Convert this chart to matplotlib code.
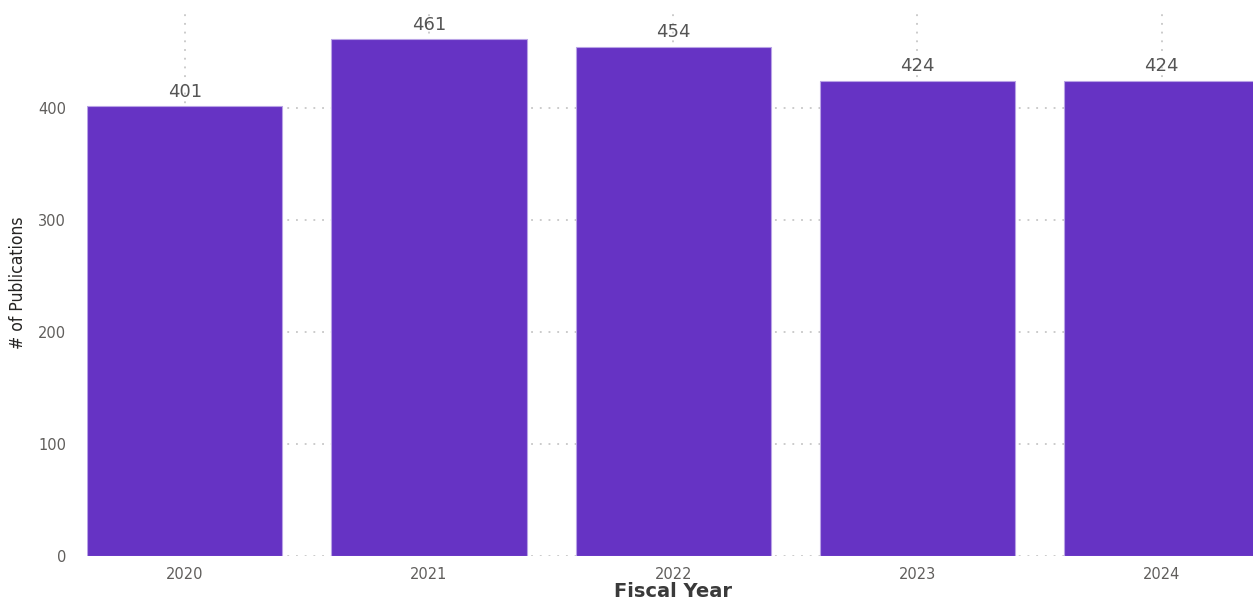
import matplotlib.pyplot as plt

years = ["2020", "2021", "2022", "2023", "2024"]
publications = [401, 461, 454, 424, 424]
y_ticks = [0, 100, 200, 300, 400]

bar_color = "#6633C4"
edge_color = "#B9A3E6"
text_color = "#605E5C"

fig = plt.figure(figsize=(12.53, 6.0), dpi=100)
ax_left = 87 / 1253
ax_bottom = (600 - 556) / 600
ax_width = (1259.4 - 87) / 1253
ax_height = (556 - 10) / 600
ax = fig.add_axes([ax_left, ax_bottom, ax_width, ax_height])

x = list(range(len(years)))
bars = ax.bar(x, publications, width=0.8, color=bar_color,
              edgecolor=edge_color, linewidth=0.8, zorder=3)

ax.set_xlim(-0.4, 4.4)
ax.set_ylim(0, 487)
ax.set_yticks(y_ticks)
ax.set_xticks(x)
ax.set_xticklabels(years)

ax.grid(True, axis="both", linestyle=(0, (1.2, 4.5)), color="#BDBDBD",
        linewidth=1.1, zorder=0)
for s in ax.spines.values():
    s.set_visible(False)
ax.tick_params(length=0, labelsize=10.5, labelcolor=text_color)
ax.tick_params(axis="y", pad=15)
ax.tick_params(axis="x", pad=8)

for b, v in zip(bars, publications):
    ax.annotate(f"{v}", (b.get_x() + b.get_width() / 2, v),
                xytext=(0, 4), textcoords="offset points",
                ha="center", va="bottom", fontsize=13,
                color="#555555", zorder=4)

ax.set_xlabel("Fiscal Year", fontsize=14, fontweight="semibold",
              color="#3A3A3A", labelpad=0)
ax.set_ylabel("# of Publications", fontsize=12.5, color="#252423",
              fontstretch="condensed", labelpad=8)

fig.savefig("out.png", dpi=100)
